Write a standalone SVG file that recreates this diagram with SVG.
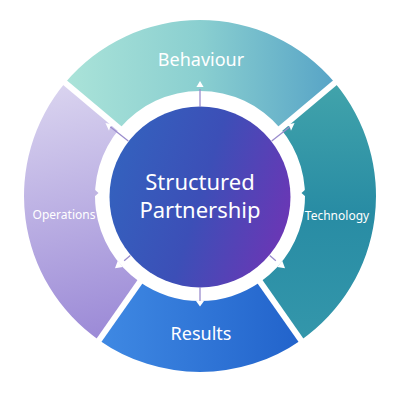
<svg xmlns="http://www.w3.org/2000/svg" width="400" height="400" viewBox="0 0 400 400">
  <defs>
    <linearGradient id="gBeh" x1="60" y1="0" x2="340" y2="0" gradientUnits="userSpaceOnUse">
      <stop offset="0" stop-color="#ace4d9"/>
      <stop offset="0.5" stop-color="#8acfd0"/>
      <stop offset="1" stop-color="#55a2c6"/>
    </linearGradient>
    <linearGradient id="gTech" x1="0" y1="80" x2="0" y2="345" gradientUnits="userSpaceOnUse">
      <stop offset="0" stop-color="#42a4ab"/>
      <stop offset="0.5" stop-color="#288ca4"/>
      <stop offset="1" stop-color="#3497ab"/>
    </linearGradient>
    <linearGradient id="gRes" x1="100" y1="0" x2="300" y2="0" gradientUnits="userSpaceOnUse">
      <stop offset="0" stop-color="#3f89e3"/>
      <stop offset="1" stop-color="#2263cb"/>
    </linearGradient>
    <linearGradient id="gOps" x1="60" y1="85" x2="120" y2="340" gradientUnits="userSpaceOnUse">
      <stop offset="0" stop-color="#d9d3ef"/>
      <stop offset="1" stop-color="#9a88d6"/>
    </linearGradient>
    <linearGradient id="gCore" x1="115" y1="160" x2="290" y2="215" gradientUnits="userSpaceOnUse">
      <stop offset="0" stop-color="#3461be"/>
      <stop offset="0.5" stop-color="#3c4fb7"/>
      <stop offset="1" stop-color="#6a37b5"/>
    </linearGradient>
  </defs>
  <style>
    .lbl { font-family: "Noto Sans", "DejaVu Sans", sans-serif; fill: #ffffff; text-anchor: middle; }
    .big { font-size: 18px; }
    .small { font-size: 12px; }
    .core { font-size: 22px; }
    .gap { stroke: #ffffff; stroke-width: 6; }
    .aline { stroke: #9a8ccc; stroke-width: 1.3; fill: none; }
    .ahead { fill: #ffffff; }
  </style>
  <rect width="400" height="400" fill="#ffffff"/>

  <g id="behaviour">
    <path d="M65.18,82.87 A176,176 0 0 1 334.82,82.87 L280.43,128.51 A105,105 0 0 0 119.57,128.51 Z" fill="url(#gBeh)"/>
    <text class="lbl big" x="201" y="66">Behaviour</text>
  </g>
  <g id="technology">
    <path d="M334.82,82.87 A176,176 0 0 1 300.95,340.18 L260.23,282.02 A105,105 0 0 0 280.43,128.51 Z" fill="url(#gTech)"/>
    <polygon points="306,189 301.5,193 306,197" fill="#2e90a6"/>
    <text class="lbl small" x="337" y="220">Technology</text>
  </g>
  <g id="results">
    <path d="M300.95,340.18 A176,176 0 0 1 99.05,340.18 L139.77,282.02 A105,105 0 0 0 260.23,282.02 Z" fill="url(#gRes)"/>
    <text class="lbl big" x="201" y="340">Results</text>
  </g>
  <g id="operations">
    <path d="M99.05,340.18 A176,176 0 0 1 65.18,82.87 L119.57,128.51 A105,105 0 0 0 139.77,282.02 Z" fill="url(#gOps)"/>
    <polygon points="94,189 98.5,193 94,197" fill="#bfb4e3"/>
    <text class="lbl small" x="64" y="219">Operations</text>
  </g>

  <g id="gaps">
    <line class="gap" x1="123.4" y1="131.7" x2="60.6" y2="79"/>
    <line class="gap" x1="276.6" y1="131.7" x2="339.4" y2="79"/>
    <line class="gap" x1="257.4" y1="278" x2="303.2" y2="343.4"/>
    <line class="gap" x1="142.6" y1="278" x2="96.8" y2="343.4"/>
  </g>

  <g id="structured-partnership">
    <circle cx="200" cy="197" r="90.5" fill="url(#gCore)"/>
    <text class="lbl core" x="200" y="190">Structured</text>
    <text class="lbl core" x="200" y="218">Partnership</text>
  </g>

  <g id="connectors">
    <g transform="translate(200,197) rotate(-90)">
      <line class="aline" x1="90" y1="0" x2="108" y2="0"/>
      <polygon class="ahead" points="116,0 110,-3.6 110,3.6"/>
    </g>
    <g transform="translate(200,197) rotate(90)">
      <line class="aline" x1="90" y1="0" x2="104" y2="0"/>
      <polygon class="ahead" points="109.5,0 104,-4 104,4"/>
    </g>
    <g transform="translate(200,197) rotate(-142)">
      <line class="aline" x1="91" y1="0" x2="114" y2="0"/>
      <polygon class="ahead" points="120,0 112.5,-3.8 114,0 112.5,3.8"/>
    </g>
    <g transform="translate(200,197) rotate(-38)">
      <line class="aline" x1="91" y1="0" x2="114" y2="0"/>
      <polygon class="ahead" points="120,0 112.5,-3.8 114,0 112.5,3.8"/>
    </g>
    <g transform="translate(200,197) rotate(140)">
      <line class="aline" x1="91" y1="0" x2="99" y2="0"/>
      <polygon class="ahead" points="111,0 104,-4 104,4"/>
    </g>
    <g transform="translate(200,197) rotate(40)">
      <line class="aline" x1="91" y1="0" x2="99" y2="0"/>
      <polygon class="ahead" points="111,0 104,-4 104,4"/>
    </g>
  </g>
</svg>
